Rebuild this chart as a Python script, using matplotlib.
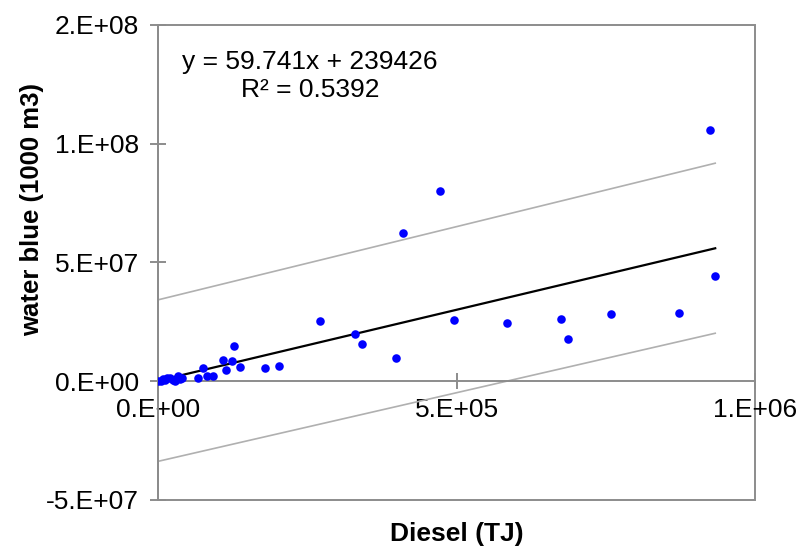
import numpy as np
import matplotlib
matplotlib.use("Agg")
import matplotlib.pyplot as plt
from matplotlib.patches import Rectangle
from matplotlib.ticker import FuncFormatter

plt.rcParams['font.family'] = ['Liberation Sans', 'DejaVu Sans']

# Diesel use (TJ) vs blue water (1000 m3)
diesel = [0, 5e3, 8e3, 11e3, 14e3, 19e3, 25e3, 28e3, 33e3, 37e3, 40e3,
          67e3, 75e3, 82e3, 92e3, 109e3, 113e3, 123e3, 127e3, 137e3,
          178e3, 202e3, 271e3, 329e3, 341e3, 398e3, 410e3, 472e3, 495e3,
          584e3, 675e3, 687e3, 759e3, 872e3, 924e3, 933e3]
water = [0.1e6, 0.3e6, 0.9e6, 0.6e6, 1.2e6, 1.5e6, 0.4e6, 0.3e6, 2.0e6, 1.1e6, 1.4e6,
         1.4e6, 5.5e6, 2.0e6, 2.0e6, 9.0e6, 4.9e6, 8.4e6, 15.0e6, 6.2e6,
         5.6e6, 6.6e6, 25.3e6, 20.0e6, 15.8e6, 9.7e6, 62.5e6, 80.3e6, 25.9e6,
         24.4e6, 26.1e6, 17.6e6, 28.4e6, 28.8e6, 105.6e6, 44.2e6]

# trend line from the chart's equation
slope = 59.741
intercept = 239426
fit_x = [0, 933e3]

# grey band lines (end points)
band_x = [0, 933e3]
band_upper = [34.3e6, 91.8e6]
band_lower = [-33.7e6, 20.2e6]

grey = '#8c8c8c'

fig = plt.figure(figsize=(8, 5.49), dpi=100)
ax = fig.add_axes([0.198, 0.0893, 0.746, 0.8652])

ax.plot(band_x, band_upper, color='#b0b0b0', lw=1.2, zorder=2)
ax.plot(band_x, band_lower, color='#b0b0b0', lw=1.2, zorder=2)
fx = np.array(fit_x)
ax.plot(fx, slope * fx + intercept, color='black', lw=1.6, zorder=3)
ax.scatter(diesel, water, s=38, color='#0000ff', zorder=4, linewidths=0)

ax.set_xlim(0, 1e6)
ax.set_ylim(-5e7, 1.5e8)
ax.set_xticks([0, 5e5, 1e6])
ax.set_yticks([-5e7, 0, 5e7, 1e8, 1.5e8])

fmt = FuncFormatter(lambda v, p: format(v, '#.0E'))
ax.xaxis.set_major_formatter(fmt)
ax.yaxis.set_major_formatter(fmt)

for s in ['top', 'right']:
    ax.spines[s].set_visible(False)
ax.spines['bottom'].set_position(('data', 0))
ax.spines['bottom'].set_color(grey)
ax.spines['left'].set_color(grey)
ax.spines['bottom'].set_linewidth(1.4)
ax.spines['left'].set_linewidth(1.4)
ax.add_patch(Rectangle((0, 0), 1, 1, transform=ax.transAxes, fill=False,
                       edgecolor=grey, lw=1.4, clip_on=False, zorder=1))

ax.tick_params(axis='both', direction='inout', length=11, width=1.4,
               color=grey, labelsize=19, labelcolor='black')
ax.tick_params(axis='y', pad=8.5)
ax.tick_params(axis='x', pad=6.5)

ax.text(0.254, 0.893, "y = 59.741x + 239426\nR² = 0.5392", transform=ax.transAxes,
        ha='center', va='center', multialignment='center', fontsize=19,
        linespacing=1.2)

fig.text(456.7 / 800, 1 - 534 / 549, "Diesel (TJ)", ha='center', va='center',
         fontsize=19, fontweight='bold')
fig.text(32 / 800, 1 - 210 / 549, "water blue (1000 m3)", ha='center', va='center',
         rotation=90, fontsize=18.5, fontweight='bold')

fig.savefig("out.png", dpi=100)
